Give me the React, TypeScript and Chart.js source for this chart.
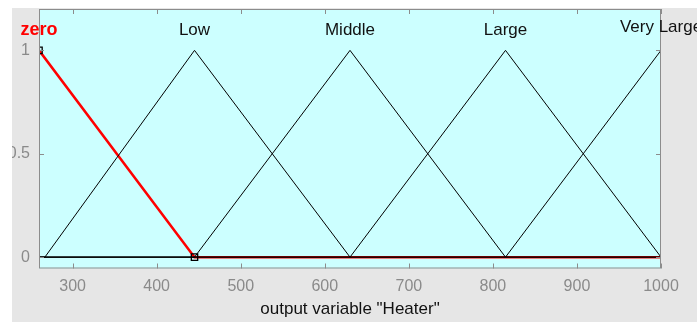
import React, { useEffect, useRef } from "react";
import { Chart, registerables } from "chart.js";
Chart.register(...registerables);

const X_MIN = 260;
const X_MAX = 1000;
const Y_MIN = -0.055;
const Y_MAX = 1.2;
const xTicks = [300, 400, 500, 600, 700, 800, 900, 1000];
const yTicks = [0, 0.5, 1];
const yTickLabels = ["0", "0.5", "1"];
const xTitle = 'output variable "Heater"';

const mfNames = ["zero", "Low", "Middle", "Large", "Very Large"];
const mfPeaks = [260, 445, 630, 815, 1000];
const mfLabelColors = ["#ff0000", "#111111", "#111111", "#111111", "#111111"];

const zeroX = [260, 445, 1000];
const zeroY = [1, 0, 0];
const lowX = [260, 267, 445, 630, 1000];
const lowY = [0, 0, 1, 0, 0];
const middleX = [260, 445, 630, 815, 1000];
const middleY = [0, 0, 1, 0, 0];
const largeX = [260, 630, 815, 1000];
const largeY = [0, 0, 1, 0];
const veryLargeX = [260, 815, 1000];
const veryLargeY = [0, 0, 1];
const zeroVertexX = [260, 445];
const zeroVertexY = [1, 0];

const FONT = "'Liberation Sans', Arial, sans-serif";

const pts = (xs: number[], ys: number[]) => xs.map((x, i) => ({ x, y: ys[i] }));

const framePlugin = {
  id: "matlabFrame",
  beforeDraw(chart: any) {
    const { ctx, chartArea: a, width, height } = chart;
    ctx.save();
    ctx.fillStyle = "#e6e6e6";
    ctx.fillRect(0, 0, width, height);
    ctx.fillStyle = "#ccffff";
    ctx.fillRect(a.left, a.top, a.right - a.left, a.bottom - a.top);
    ctx.restore();
  },
  afterDraw(chart: any) {
    const { ctx, chartArea: a } = chart;
    const xs = chart.scales.x;
    const ys = chart.scales.y;
    ctx.save();
    ctx.strokeStyle = "#8c8c8c";
    ctx.lineWidth = 1;
    ctx.strokeRect(a.left + 0.5, a.top + 0.5, a.right - a.left - 1, a.bottom - a.top - 1);
    const tl = 5;
    ctx.beginPath();
    xTicks.forEach((v) => {
      const px = Math.round(xs.getPixelForValue(v)) + 0.5;
      ctx.moveTo(px, a.bottom);
      ctx.lineTo(px, a.bottom - tl);
      ctx.moveTo(px, a.top);
      ctx.lineTo(px, a.top + tl);
    });
    yTicks.forEach((v) => {
      const py = Math.round(ys.getPixelForValue(v)) + 0.5;
      ctx.moveTo(a.left, py);
      ctx.lineTo(a.left + tl, py);
      ctx.moveTo(a.right, py);
      ctx.lineTo(a.right - tl, py);
    });
    ctx.stroke();

    // MF labels
    ctx.textAlign = "center";
    ctx.textBaseline = "alphabetic";
    mfNames.forEach((name, i) => {
      const px = xs.getPixelForValue(mfPeaks[i]);
      ctx.fillStyle = mfLabelColors[i];
      ctx.font = i === 0 ? `bold 18px ${FONT}` : `17px ${FONT}`;
      const y = i === mfNames.length - 1 ? a.top + 23 : a.top + 26;
      ctx.fillText(name, px, y);
    });

    // x title
    ctx.fillStyle = "#111111";
    ctx.font = `17px ${FONT}`;
    ctx.textBaseline = "middle";
    ctx.fillText(xTitle, (a.left + a.right) / 2, a.bottom + 41);
    ctx.restore();
  },
};

export default function App() {
  const ref = useRef<HTMLCanvasElement>(null);
  useEffect(() => {
    const canvas = ref.current;
    if (!canvas) return;
    const chart = new Chart(canvas, {
      type: "line",
      data: {
        datasets: [
          {
            data: pts(zeroVertexX, zeroVertexY),
            showLine: false,
            pointStyle: "rect",
            pointRadius: 4.5,
            pointBackgroundColor: "rgba(0,0,0,0)",
            pointBorderColor: "#000000",
            pointBorderWidth: 1.3,
            order: 0,
            clip: 0,
          },
          { data: pts(lowX, lowY), borderColor: "#000000", borderWidth: 1, pointRadius: 0, order: 1, clip: 0 },
          { data: pts(middleX, middleY), borderColor: "#000000", borderWidth: 1, pointRadius: 0, order: 2, clip: 0 },
          { data: pts(largeX, largeY), borderColor: "#000000", borderWidth: 1, pointRadius: 0, order: 3, clip: 0 },
          { data: pts(veryLargeX, veryLargeY), borderColor: "#000000", borderWidth: 1, pointRadius: 0, order: 4, clip: 0 },
          { data: pts(zeroX, zeroY), borderColor: "#ff0000", borderWidth: 2.5, pointRadius: 0, order: 5, clip: 0 },
        ] as any,
      },
      options: {
        responsive: false,
        animation: false,
        devicePixelRatio: 1,
        layout: { autoPadding: false, padding: { top: 1, right: 36, left: 0, bottom: 0 } },
        plugins: { legend: { display: false }, tooltip: { enabled: false } },
        elements: { line: { tension: 0 }, point: { radius: 0 } },
        scales: {
          x: {
            type: "linear",
            min: X_MIN,
            max: X_MAX,
            grid: { display: false, drawTicks: false },
            border: { display: false },
            afterBuildTicks: (s: any) => {
              s.ticks = xTicks.map((v) => ({ value: v }));
            },
            afterFit: (s: any) => {
              s.height = 53.5;
              s.paddingLeft = 0;
              s.paddingRight = 0;
            },
            ticks: {
              color: "#8a8a8a",
              font: { family: FONT, size: 16 },
              padding: 8,
              maxRotation: 0,
              autoSkip: false,
              callback: (v: any) => String(v),
            },
          },
          y: {
            type: "linear",
            min: Y_MIN,
            max: Y_MAX,
            grid: { display: false, drawTicks: false },
            border: { display: false },
            afterBuildTicks: (s: any) => {
              s.ticks = yTicks.map((v) => ({ value: v }));
            },
            afterFit: (s: any) => {
              s.width = 27;
              s.paddingTop = 0;
              s.paddingBottom = 0;
            },
            ticks: {
              color: "#8a8a8a",
              font: { family: FONT, size: 16 },
              padding: 9,
              autoSkip: false,
              callback: (v: any) => {
                const i = yTicks.indexOf(Number(v));
                return i >= 0 ? yTickLabels[i] : "";
              },
            },
          },
        },
      } as any,
      plugins: [framePlugin],
    });
    return () => chart.destroy();
  }, []);
  return (
    <div style={{ position: "fixed", left: 12, top: 8, width: 685, height: 314 }}>
      <canvas ref={ref} width={685} height={314} style={{ display: "block", width: 685, height: 314 }} />
    </div>
  );
}
